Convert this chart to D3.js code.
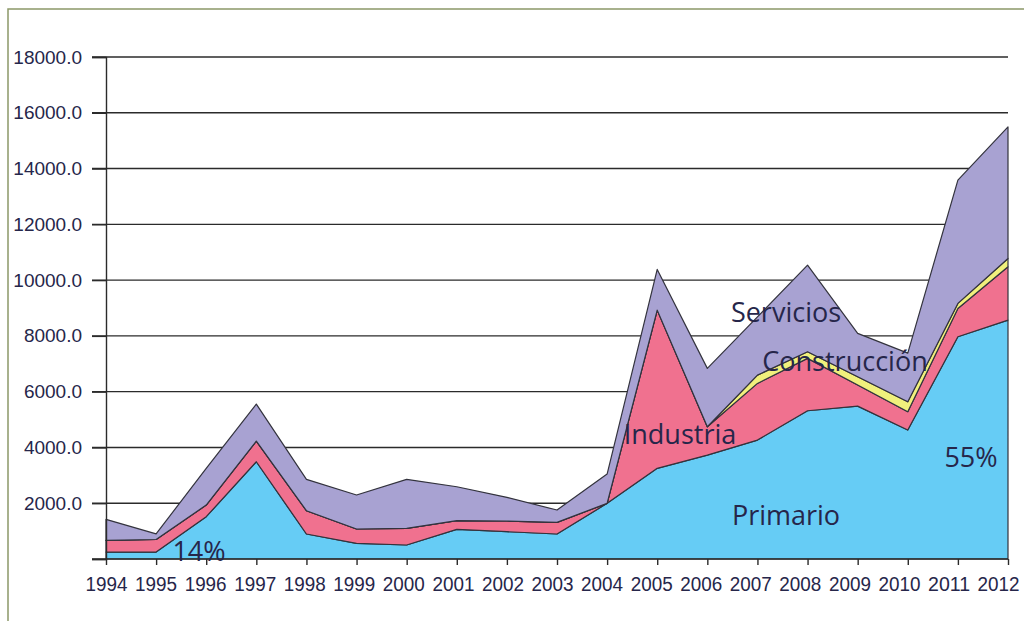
<!DOCTYPE html>
<html lang="es">
	<head>
		<meta charset="utf-8">
		<title>Inversión por sector 1994-2012</title>
		<script type="text/javascript" src="https://cdn.jsdelivr.net/npm/d3@7"></script>
		<style type="text/css">
			body { margin: 0; background: #fff; }
			svg { display: block; }
		</style>
	</head>
	<body>
		<script type="text/javascript">

			//Width and height
			var w = 1024;
			var h = 621;

			var years = [1994, 1995, 1996, 1997, 1998, 1999, 2000, 2001, 2002, 2003,
						 2004, 2005, 2006, 2007, 2008, 2009, 2010, 2011, 2012];

			//values, one array per layer
			var primario     = [250, 250, 1516, 3488, 896, 562, 502, 1064, 979, 896,
								1996, 3250, 3727, 4265, 5315, 5483, 4623, 7968, 8566];
			var industria    = [420, 450, 419, 741, 836, 513, 598, 309, 383, 419,
								0, 5674, 1015, 2031, 1878, 753, 657, 1017, 1911];
			var construccion = [0, 0, 0, 0, 0, 0, 0, 0, 0, 0,
								0, 0, 0, 298, 237, 298, 358, 179, 300];
			var servicios    = [753, 200, 1315, 1326, 1124, 1219, 1756, 1218, 849, 441,
								1050, 1459, 2093, 2090, 3107, 1555, 1745, 4419, 4717];

			var yTicks = [0, 2000, 4000, 6000, 8000, 10000, 12000, 14000, 16000, 18000];

			var keys = ["primario", "industria", "construccion", "servicios"];
			var colors = ["#66ccf5", "#f0718f", "#f1f07c", "#a8a2d2"];

			//build the table d3.stack needs
			var table = years.map(function(yr, i) {
				return { year: yr, primario: primario[i], industria: industria[i],
						 construccion: construccion[i], servicios: servicios[i] };
			});

			//plot box (window.top is read-only, so no "top" here)
			var padL = 106, padR = 1008, padT = 57, padB = 559;

			var x = d3.scaleLinear().domain([1994, 2012]).range([padL, padR]);
			var y = d3.scaleLinear().domain([0, 18000]).range([padB, padT]);

			var svg = d3.select("body")
						.append("svg")
						.attr("width", w)
						.attr("height", h);

			//frame round the chart
			svg.append("rect")
			   .attr("x", 8).attr("y", 9)
			   .attr("width", w + 20).attr("height", h + 20)
			   .attr("fill", "none")
			   .attr("stroke", "#8c9868")
			   .attr("stroke-width", 1.5);

			//gridlines, from the ticks out past the axis
			svg.selectAll("line.grid")
			   .data(yTicks.slice(1))
			   .enter()
			   .append("line")
			   .attr("class", "grid")
			   .attr("x1", padL - 14)
			   .attr("x2", padR)
			   .attr("y1", function(d) { return y(d); })
			   .attr("y2", function(d) { return y(d); })
			   .attr("stroke", "#2b2b2b")
			   .attr("stroke-width", 1.4);

			var series = d3.stack().keys(keys)(table);

			var area = d3.area()
						 .x(function(d) { return x(d.data.year); })
						 .y0(function(d) { return y(d[0]); })
						 .y1(function(d) { return y(d[1]); });

			svg.selectAll("path.layer")
			   .data(series)
			   .enter()
			   .append("path")
			   .attr("class", "layer")
			   .attr("d", area)
			   .attr("fill", function(d, i) { return colors[i]; })
			   .attr("stroke", "#33333d")
			   .attr("stroke-width", 1.2)
			   .attr("stroke-linejoin", "round");

			//y axis, no label at zero
			var yAxis = d3.axisLeft(y)
						  .tickValues(yTicks)
						  .tickSize(14)
						  .tickPadding(10)
						  .tickFormat(function(d) { return d === 0 ? "" : d3.format(".1f")(d); });

			var gy = svg.append("g")
						.attr("transform", "translate(" + padL + ",0)")
						.call(yAxis);
			gy.select(".domain").attr("stroke", "#2b2b2b").attr("stroke-width", 1.4);
			gy.selectAll(".tick line").attr("stroke", "#2b2b2b").attr("stroke-width", 1.4);
			gy.selectAll("text")
			  .attr("font-family", "Liberation Sans, sans-serif")
			  .attr("font-size", "19px")
			  .attr("fill", "#26264a");

			//x axis
			var xAxis = d3.axisBottom(x)
						  .tickValues(years)
						  .tickSize(6)
						  .tickPadding(12)
						  .tickFormat(d3.format("d"));

			var gx = svg.append("g")
						.attr("transform", "translate(0," + padB + ")")
						.call(xAxis);
			gx.select(".domain").attr("stroke", "#2b2b2b").attr("stroke-width", 1.4)
			  .attr("d", "M" + (padL - 14) + ",0H" + padR);
			gx.selectAll(".tick line").attr("stroke", "#2b2b2b").attr("stroke-width", 1.4);
			//condensed look: squeeze each year into a fixed width,
			//labels drift a little left towards the right end like the original
			gx.selectAll(".tick text")
			  .attr("font-family", "Liberation Sans, sans-serif")
			  .attr("font-size", "20px")
			  .attr("textLength", 42)
			  .attr("lengthAdjust", "spacingAndGlyphs")
			  .attr("x", function(d, i) { return -0.55 * i; })
			  .attr("fill", "#26264a");

			//labels inside the chart
			var notes = [
				{ t: "Servicios",    x: 786, y: 322, s: 27 },
				{ t: "Construcción", x: 845, y: 371, s: 27 },
				{ t: "Industria",    x: 680, y: 444, s: 27 },
				{ t: "Primario",     x: 786, y: 525, s: 27 },
				{ t: "14%",          x: 199, y: 561, s: 27 },
				{ t: "55%",          x: 971, y: 467, s: 27 }
			];

			svg.selectAll("text.note")
			   .data(notes)
			   .enter()
			   .append("text")
			   .attr("class", "note")
			   .text(function(d) { return d.t; })
			   .attr("x", function(d) { return d.x; })
			   .attr("y", function(d) { return d.y; })
			   .attr("text-anchor", "middle")
			   .attr("font-family", "Open Sans, sans-serif")
			   .attr("font-size", function(d) { return d.s + "px"; })
			   .attr("fill", "#26264a");

		</script>
	</body>
</html>
